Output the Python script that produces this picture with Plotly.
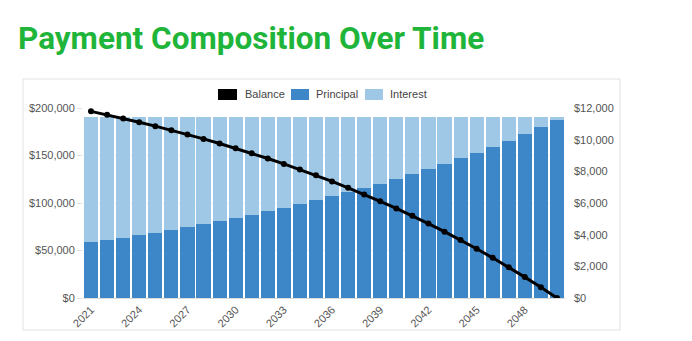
import plotly.graph_objects as go

# Yearly mortgage amortization figures
years = list(range(2021, 2051))
principal = [3522, 3666, 3815, 3970, 4132, 4300, 4476, 4658, 4847, 5046,
             5251, 5465, 5687, 5919, 6160, 6411, 6673, 6944, 7227, 7522,
             7828, 8147, 8479, 8825, 9184, 9558, 9947, 10353, 10775, 11213]
interest = [7936, 7792, 7643, 7488, 7326, 7158, 6982, 6800, 6611, 6412,
            6207, 5993, 5771, 5539, 5298, 5047, 4785, 4514, 4231, 3936,
            3630, 3311, 2979, 2633, 2274, 1900, 1511, 1105, 683, 245]
balance = [196478, 192812, 188997, 185027, 180895, 176595, 172119, 167461, 162614, 157568,
           152317, 146852, 141165, 135246, 129086, 122675, 116002, 109058, 101831, 94309,
           86481, 78334, 69855, 61030, 51846, 42288, 32341, 21988, 11213, 0]
x_ticks = list(range(2021, 2051, 3))
balance_ticks = [0, 50000, 100000, 150000, 200000]
payment_ticks = [0, 2000, 4000, 6000, 8000, 10000, 12000]

W, H = 692, 341
L, R, T, B = 83, 565, 108, 298  # plot area in pixels

def px_x(px):
    return (px - L) / (R - L)

def px_y(py):
    return (B - py) / (B - T)

def money(v):
    return "$" + f"{v:,}"

C_PRIN = "#3d86c7"
C_INT = "#9ec8e5"
TXT = "#555555"
FONT = "Liberation Sans, Arial, sans-serif"

fig = go.Figure()
fig.add_trace(go.Bar(x=years, y=principal, name="Principal", marker_color=C_PRIN,
                     marker_line_width=0, yaxis="y"))
fig.add_trace(go.Bar(x=years, y=interest, name="Interest", marker_color=C_INT,
                     marker_line_width=0, yaxis="y"))
fig.add_trace(go.Scatter(x=years, y=balance, name="Balance", mode="lines+markers",
                         line=dict(color="black", width=3),
                         marker=dict(color="black", size=6), yaxis="y2"))

shapes = [
    # card outline around the chart
    dict(type="rect", xref="paper", yref="paper",
         x0=px_x(23), x1=px_x(620), y0=px_y(330), y1=px_y(79),
         line=dict(color="#e2e2e2", width=1), fillcolor="rgba(0,0,0,0)", layer="below"),
]
annotations = []
legend_items = [("Balance", "black", 218, 237, 243),
                ("Principal", C_PRIN, 291, 309, 314),
                ("Interest", C_INT, 365, 383, 388)]
for label, color, bx0, bx1, tx in legend_items:
    shapes.append(dict(type="rect", xref="paper", yref="paper",
                       x0=px_x(bx0), x1=px_x(bx1), y0=px_y(100), y1=px_y(89),
                       line=dict(width=0), fillcolor=color))
    annotations.append(dict(text=label, xref="paper", yref="paper", x=px_x(tx), y=px_y(94.5),
                            xanchor="left", yanchor="middle", showarrow=False,
                            font=dict(family=FONT, size=11, color="#444444")))

fig.update_layout(
    width=W, height=H,
    margin=dict(l=L, r=W - R, t=T, b=H - B),
    paper_bgcolor="white", plot_bgcolor="white",
    barmode="stack", bargap=0.12,
    showlegend=False,
    title=dict(text="<b>Payment Composition Over Time</b>", xref="container", yref="container",
               x=18 / W, xanchor="left", y=1 - 38 / H, yanchor="middle",
               font=dict(family="Roboto, sans-serif", size=31.5, color="#1fb53a")),
    font=dict(family=FONT, size=11, color=TXT),
    xaxis=dict(tickmode="array", tickvals=x_ticks, ticktext=[str(v) for v in x_ticks],
               tickangle=-45, range=[2020.5, 2050.5], showgrid=False,
               showline=True, linecolor="#dddddd", ticks="", zeroline=False,
               tickfont=dict(family=FONT, size=11, color=TXT)),
    yaxis=dict(side="right", range=[0, 12000], tickmode="array", tickvals=payment_ticks,
               ticktext=[money(v) for v in payment_ticks], showgrid=False, zeroline=False,
               ticks="", ticklabelstandoff=8,
               tickfont=dict(family=FONT, size=11, color=TXT)),
    yaxis2=dict(side="left", overlaying="y", range=[0, 200000], tickmode="array",
                tickvals=balance_ticks, ticktext=[money(v) for v in balance_ticks],
                showgrid=True, gridcolor="#f0f0f0", zeroline=False,
                ticks="outside", ticklen=5, tickcolor="#dddddd",
                tickfont=dict(family=FONT, size=11, color=TXT)),
    shapes=shapes,
    annotations=annotations,
)

fig.write_html("out.html")
